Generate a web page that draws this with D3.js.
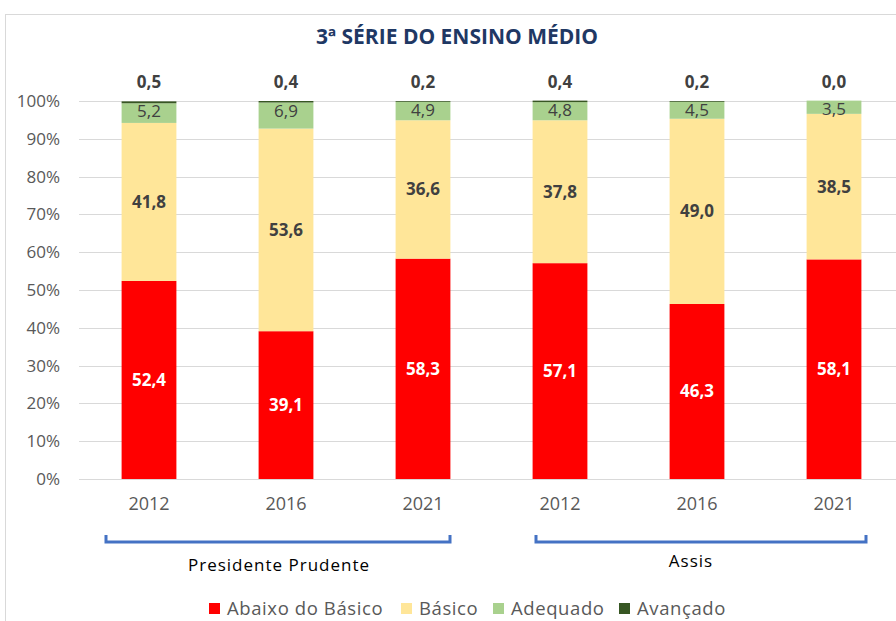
<!DOCTYPE html>
<html>
<head>
<meta charset="utf-8">
<script src="https://cdnjs.cloudflare.com/ajax/libs/d3/7.8.5/d3.min.js"></script>
<style>
  body { margin: 0; background: #fff; }
  svg { display: block; font-family: "Open Sans", "Noto Sans", sans-serif; }
</style>
</head>
<body>
<svg id="chart" width="896" height="621"></svg>
<script>
"use strict";

// categories (region / year)
let years = ["2012", "2016", "2021", "2012", "2016", "2021"];
let regions = ["Presidente Prudente", "Assis"];
let series = ["Abaixo do Básico", "Básico", "Adequado", "Avançado"];

// series values, in percent
let abaixo = [52.4, 39.1, 58.3, 57.1, 46.3, 58.1];
let basico = [41.8, 53.6, 36.6, 37.8, 49.0, 38.5];
let adequado = [5.2, 6.9, 4.9, 4.8, 4.5, 3.5];
let avancado = [0.5, 0.4, 0.2, 0.4, 0.2, 0.0];

let yTicks = [0, 10, 20, 30, 40, 50, 60, 70, 80, 90, 100];

let colors = ["#FF0000", "#FFE699", "#A9D18E", "#375623"];

let svg = d3.select("#chart");

// chart frame
svg.append("rect").attr("x", 5.5).attr("y", 14.5).attr("width", 900).attr("height", 620)
  .attr("fill", "none").attr("stroke", "#d9d9d9");

svg.append("text").attr("x", 457).attr("y", 44).attr("text-anchor", "middle")
  .style("font-family", "'Liberation Sans Narrow', 'Open Sans', sans-serif")
  .style("font-size", "21px").style("font-weight", "bold").style("fill", "#1F3864")
  .text("3ª SÉRIE DO ENSINO MÉDIO");

let plotTop = 101, plotBottom = 479;
let x = d3.scaleBand().domain(d3.range(years.length)).range([80.5, 902.5]).paddingInner(0.6).paddingOuter(0.3);
let y = d3.scaleLinear().domain([0, 100]).range([plotBottom, plotTop]);

// gridlines
svg.append("g").selectAll("line").data(yTicks).enter().append("line")
  .attr("x1", 79).attr("x2", 896)
  .attr("y1", d => Math.round(y(d)) + 0.5).attr("y2", d => Math.round(y(d)) + 0.5)
  .attr("stroke", "#d9d9d9").attr("stroke-width", 1);

// y axis labels
let yAxis = d3.axisLeft(y).tickValues(yTicks).tickFormat(d => d + "%").tickSize(0).tickPadding(0);
let yg = svg.append("g").attr("transform", "translate(60,0)").call(yAxis);
yg.select(".domain").remove();
yg.selectAll("text").style("font-size", "17px").style("fill", "#595959")
  .style("font-family", "'Open Sans', sans-serif");

// stacked data
let rows = years.map((yr, i) => ({ i: i, s0: abaixo[i], s1: basico[i], s2: adequado[i], s3: avancado[i] }));
let stack = d3.stack().keys(["s0", "s1", "s2", "s3"]);
let stacked = stack(rows);

let layers = svg.append("g").selectAll("g").data(stacked).enter().append("g")
  .attr("fill", (d, k) => colors[k]);

layers.selectAll("rect").data(d => d).enter().append("rect")
  .attr("x", d => x(d.data.i))
  .attr("width", x.bandwidth())
  .attr("y", d => y(d[1]))
  .attr("height", d => Math.max(0, y(d[0]) - y(d[1])));

// labels
let labelStyle = [
  { fill: "#ffffff", weight: "bold" },
  { fill: "#404040", weight: "bold" },
  { fill: "#404040", weight: "normal" },
  { fill: "#404040", weight: "bold" }
];
let fmt = v => v.toFixed(1).replace(".", ",");

stacked.forEach((layer, k) => {
  svg.append("g").selectAll("text").data(layer).enter().append("text")
    .attr("x", d => x(d.data.i) + x.bandwidth() / 2)
    .attr("y", d => {
      if (k === 3) return 88;
      if (k === 2) return y(d[1]) + 14;
      return (y(d[0]) + y(d[1])) / 2 + 6;
    })
    .attr("text-anchor", "middle")
    .style("font-size", "17px")
    .style("font-weight", labelStyle[k].weight)
    .style("fill", labelStyle[k].fill)
    .text(d => fmt(d[1] - d[0]));
});

// x year labels
svg.append("g").selectAll("text").data(years).enter().append("text")
  .attr("x", (d, i) => x(i) + x.bandwidth() / 2)
  .attr("y", 510)
  .attr("text-anchor", "middle")
  .style("font-size", "18px").style("fill", "#595959")
  .text(d => d);

// region brackets
let groups = [
  { name: regions[0], x1: 106, x2: 450, lx: 279, ly: 571 },
  { name: regions[1], x1: 536, x2: 866, lx: 691, ly: 567 }
];
let br = svg.append("g").selectAll("g").data(groups).enter().append("g");
br.append("path")
  .attr("d", d => `M${d.x1},535 L${d.x1},542 L${d.x2},542 L${d.x2},535`)
  .attr("fill", "none").attr("stroke", "#4472C4").attr("stroke-width", 3);
br.append("text")
  .attr("x", d => d.lx)
  .attr("y", d => d.ly)
  .attr("text-anchor", "middle")
  .style("font-size", "17px").style("fill", "#000")
  .style("letter-spacing", "1px")
  .text(d => d.name);

// legend
let legendX = [227, 419, 511, 637];
let lg = svg.append("g").selectAll("g").data(series).enter().append("g")
  .attr("transform", (d, k) => `translate(${legendX[k]},603)`);
lg.append("rect").attr("x", -18).attr("width", 11).attr("height", 11).attr("fill", (d, k) => colors[k]);
lg.append("text").attr("x", 0).attr("y", 12)
  .style("font-size", "18.5px").style("fill", "#595959")
  .style("letter-spacing", "0.6px")
  .text(d => d);
</script>
</body>
</html>
